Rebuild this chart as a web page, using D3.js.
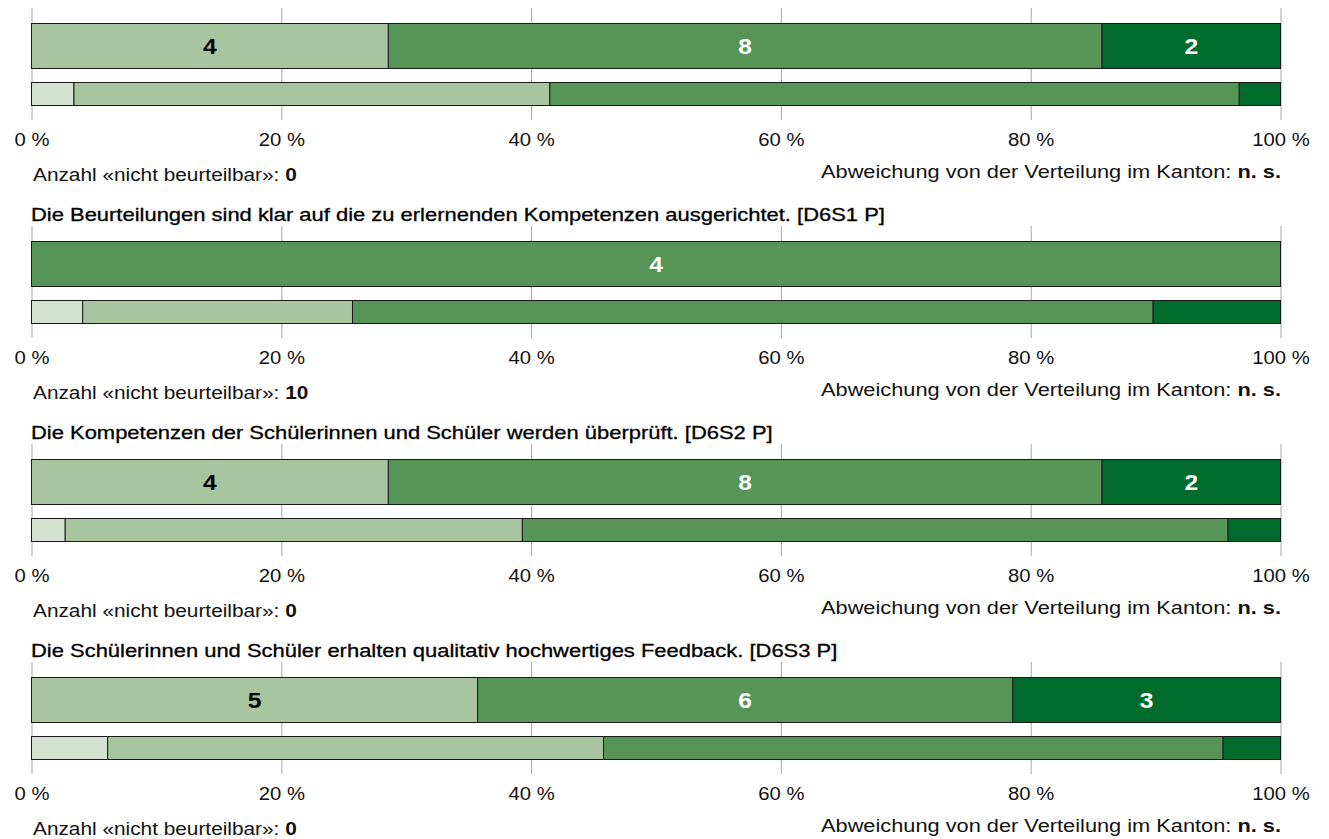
<!DOCTYPE html>
<html>
<head>
<meta charset="utf-8">
<script src="https://cdn.jsdelivr.net/npm/d3@7"></script>
<style>
  body { margin: 0; background: #fff; }
  svg { display: block; font-family: "Liberation Sans", Arial, Helvetica, sans-serif; }
</style>
</head>
<body>
<svg id="chart" width="1329" height="839"></svg>
<script>
// Statement titles (the first block's title sits above the visible area)
const titles = [
  null,
  "Die Beurteilungen sind klar auf die zu erlernenden Kompetenzen ausgerichtet. [D6S1 P]",
  "Die Kompetenzen der Schülerinnen und Schüler werden überprüft. [D6S2 P]",
  "Die Schülerinnen und Schüler erhalten qualitativ hochwertiges Feedback. [D6S3 P]"
];

// Answer categories, from "trifft nicht zu" to "trifft zu"
const categories = ["trifft nicht zu", "trifft eher nicht zu", "trifft eher zu", "trifft zu"];
const categoryColors = ["#d3e3cf", "#a8c5a0", "#569557", "#006b2d"];
const labelColors = ["#000", "#000", "#fff", "#fff"];

// School: number of answers per category
const schoolCounts = [
  [0, 4, 8, 2],
  [0, 0, 4, 0],
  [0, 4, 8, 2],
  [0, 5, 6, 3]
];

// Canton: distribution in percent per category
const cantonPercents = [
  [3.4, 38.1, 55.2, 3.3],
  [4.1, 21.6, 64.1, 10.2],
  [2.7, 36.6, 56.5, 4.2],
  [6.1, 39.7, 49.6, 4.6]
];

const notAssessable = [0, 10, 0, 0];
const deviation = ["n. s.", "n. s.", "n. s.", "n. s."];
const tickValues = [0, 20, 40, 60, 80, 100];

const svg = d3.select("#chart");

const x = d3.scaleLinear().domain([0, 100]).range([31.5, 1280.5]);
const blockY = d3.scaleLinear().domain([0, 1]).range([23, 241]);

// writes a line of text built from [string, bold] parts, widened horizontally
function writeText(g, px, py, anchor, size, stretch, parts, fill) {
  const t = g.append("text")
    .attr("transform", `translate(${px},${py}) scale(${stretch},1)`)
    .attr("text-anchor", anchor)
    .attr("font-size", size)
    .attr("fill", fill || "#111");
  parts.forEach(([s, bold]) => {
    t.append("tspan").attr("font-weight", bold ? "bold" : "normal").text(s);
  });
  return t;
}

// turns counts/percents into stacked segments
function stack(values) {
  const total = d3.sum(values);
  let acc = 0;
  return values.map((v, i) => {
    const s = { i, v, x0: acc / total * 100, x1: (acc + v) / total * 100 };
    acc += v;
    return s;
  }).filter(d => d.v > 0);
}

const bigH = 45, smallOff = 59, smallH = 23;

schoolCounts.forEach((counts, k) => {
  const top = blockY(k);
  const g = svg.append("g");

  if (titles[k]) {
    writeText(g, 31, top - 20, "start", 18, 1.22, [[titles[k], false]], "#000")
      .attr("stroke", "#000").attr("stroke-width", 0.3);
  }

  // gridlines and tick labels
  const axis = d3.axisBottom(x)
    .tickValues(tickValues)
    .tickSize(112)
    .tickFormat(d => d + " %");
  const ax = g.append("g")
    .attr("transform", `translate(0,${top - 15})`)
    .call(axis);
  ax.select(".domain").remove();
  ax.selectAll(".tick line").attr("stroke", "#a6a6a6").attr("stroke-width", 1);
  ax.selectAll(".tick text").remove();
  ax.selectAll(".tick").each(function(d) {
    writeText(d3.select(this), 0, 138, "middle", 17.5, 1.16, [[d + " %", false]], "#111");
  });

  // school bar with answer counts
  const seg = stack(counts);
  g.selectAll(".big").data(seg).join("rect")
    .attr("x", d => x(d.x0))
    .attr("width", d => x(d.x1) - x(d.x0))
    .attr("y", top + 0.5)
    .attr("height", bigH)
    .attr("fill", d => categoryColors[d.i])
    .attr("stroke", "#1a1a1a")
    .attr("stroke-width", 1);
  seg.forEach(d => {
    writeText(g, (x(d.x0) + x(d.x1)) / 2, top + bigH / 2 + 8.5, "middle", 22, 1.12,
      [[String(d.v), true]], labelColors[d.i]);
  });

  // canton distribution bar
  const cseg = stack(cantonPercents[k]);
  g.selectAll(".small").data(cseg).join("rect")
    .attr("x", d => x(d.x0))
    .attr("width", d => x(d.x1) - x(d.x0))
    .attr("y", top + smallOff + 0.5)
    .attr("height", smallH)
    .attr("fill", d => categoryColors[d.i])
    .attr("stroke", "#1a1a1a")
    .attr("stroke-width", 1);

  writeText(g, 33, top + 158, "start", 17.5, 1.19,
    [["Anzahl «nicht beurteilbar»: ", false], [String(notAssessable[k]), true]], "#111");
  writeText(g, 1281, top + 155, "end", 17.5, 1.245,
    [["Abweichung von der Verteilung im Kanton: ", false], [deviation[k], true]], "#111");
});
</script>
</body>
</html>
